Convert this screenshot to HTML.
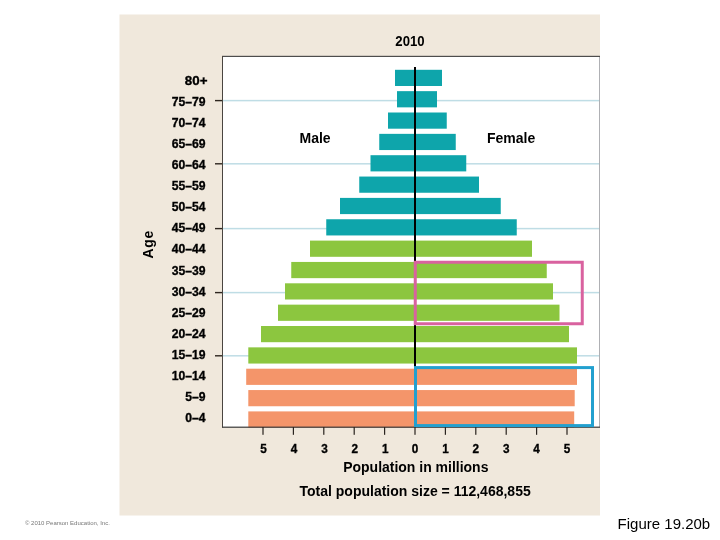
<!DOCTYPE html><html><head><meta charset="utf-8"><title>Figure 19.20b</title>
<style>html,body{margin:0;padding:0;background:#fff;}body{width:720px;height:540px;overflow:hidden;font-family:"Liberation Sans",sans-serif;}svg{display:block;will-change:transform;}text{font-family:"Liberation Sans",sans-serif;fill:#000;}</style></head><body>
<svg width="720" height="540" viewBox="0 0 720 540">
<rect x="0" y="0" width="720" height="540" fill="#ffffff"/>
<rect x="119.5" y="14.5" width="480.5" height="501" fill="#f0e8dc"/>
<rect x="222.5" y="56.5" width="377.5" height="370.5" fill="#ffffff"/>
<rect x="223" y="99.85" width="376.5" height="1.5" fill="#bfdde5"/>
<rect x="215" y="99.89999999999999" width="7.5" height="1.4" fill="#2e2620"/>
<rect x="223" y="163.05" width="376.5" height="1.5" fill="#bfdde5"/>
<rect x="215" y="163.10000000000002" width="7.5" height="1.4" fill="#2e2620"/>
<rect x="223" y="227.85" width="376.5" height="1.5" fill="#bfdde5"/>
<rect x="215" y="227.9" width="7.5" height="1.4" fill="#2e2620"/>
<rect x="223" y="291.85" width="376.5" height="1.5" fill="#bfdde5"/>
<rect x="215" y="291.90000000000003" width="7.5" height="1.4" fill="#2e2620"/>
<rect x="223" y="355.05" width="376.5" height="1.5" fill="#bfdde5"/>
<rect x="215" y="355.1" width="7.5" height="1.4" fill="#2e2620"/>
<rect x="599.1" y="57" width="0.9" height="370" fill="#a6a8ac"/>
<rect x="395" y="69.80" width="47.00" height="16.2" fill="#0ea5ab"/>
<rect x="397" y="91.15" width="40.00" height="16.2" fill="#0ea5ab"/>
<rect x="388" y="112.50" width="58.75" height="16.2" fill="#0ea5ab"/>
<rect x="379.25" y="133.85" width="76.50" height="16.2" fill="#0ea5ab"/>
<rect x="370.5" y="155.20" width="95.75" height="16.2" fill="#0ea5ab"/>
<rect x="359.25" y="176.55" width="119.75" height="16.2" fill="#0ea5ab"/>
<rect x="340" y="197.90" width="160.75" height="16.2" fill="#0ea5ab"/>
<rect x="326.25" y="219.25" width="190.50" height="16.2" fill="#0ea5ab"/>
<rect x="310" y="240.60" width="222.00" height="16.2" fill="#8cc63f"/>
<rect x="291.25" y="261.95" width="255.50" height="16.2" fill="#8cc63f"/>
<rect x="285" y="283.30" width="268.00" height="16.2" fill="#8cc63f"/>
<rect x="278" y="304.65" width="281.50" height="16.2" fill="#8cc63f"/>
<rect x="261" y="326.00" width="308.00" height="16.2" fill="#8cc63f"/>
<rect x="248.3" y="347.35" width="328.70" height="16.2" fill="#8cc63f"/>
<rect x="246.2" y="368.70" width="330.80" height="16.2" fill="#f4956a"/>
<rect x="248.3" y="390.05" width="326.40" height="16.2" fill="#f4956a"/>
<rect x="248.3" y="411.40" width="325.90" height="16.2" fill="#f4956a"/>
<rect x="414" y="67" width="2" height="300" fill="#000"/>
<rect x="222" y="55.8" width="378" height="1.2" fill="#4d4d4d"/>
<rect x="222" y="56" width="1" height="371.5" fill="#4a4540"/>
<rect x="222" y="426.6" width="378" height="1.2" fill="#3a3a3a"/>
<rect x="262.40" y="427" width="1.2" height="7.8" fill="#2a241f"/>
<rect x="292.80" y="427" width="1.2" height="7.8" fill="#2a241f"/>
<rect x="323.20" y="427" width="1.2" height="7.8" fill="#2a241f"/>
<rect x="353.60" y="427" width="1.2" height="7.8" fill="#2a241f"/>
<rect x="384.00" y="427" width="1.2" height="7.8" fill="#2a241f"/>
<rect x="414.40" y="427" width="1.2" height="7.8" fill="#2a241f"/>
<rect x="444.80" y="427" width="1.2" height="7.8" fill="#2a241f"/>
<rect x="475.20" y="427" width="1.2" height="7.8" fill="#2a241f"/>
<rect x="505.60" y="427" width="1.2" height="7.8" fill="#2a241f"/>
<rect x="536.00" y="427" width="1.2" height="7.8" fill="#2a241f"/>
<rect x="566.40" y="427" width="1.2" height="7.8" fill="#2a241f"/>
<rect x="415.25" y="262.25" width="167" height="61.5" fill="none" stroke="#d9629f" stroke-width="3"/>
<rect x="415.5" y="367.6" width="177" height="58" fill="none" stroke="#22a0cf" stroke-width="3"/>
<text transform="translate(207.5,84.50) scale(0.99,1)" text-anchor="end" font-size="13.5" font-weight="bold" stroke="#000" stroke-width="0.35">80+</text>
<text transform="translate(205.6,105.62) scale(0.905,1)" text-anchor="end" font-size="13.5" font-weight="bold" stroke="#000" stroke-width="0.35">75–79</text>
<text transform="translate(205.6,126.74) scale(0.905,1)" text-anchor="end" font-size="13.5" font-weight="bold" stroke="#000" stroke-width="0.35">70–74</text>
<text transform="translate(205.6,147.86) scale(0.905,1)" text-anchor="end" font-size="13.5" font-weight="bold" stroke="#000" stroke-width="0.35">65–69</text>
<text transform="translate(205.6,168.98) scale(0.905,1)" text-anchor="end" font-size="13.5" font-weight="bold" stroke="#000" stroke-width="0.35">60–64</text>
<text transform="translate(205.6,190.10) scale(0.905,1)" text-anchor="end" font-size="13.5" font-weight="bold" stroke="#000" stroke-width="0.35">55–59</text>
<text transform="translate(205.6,211.22) scale(0.905,1)" text-anchor="end" font-size="13.5" font-weight="bold" stroke="#000" stroke-width="0.35">50–54</text>
<text transform="translate(205.6,232.34) scale(0.905,1)" text-anchor="end" font-size="13.5" font-weight="bold" stroke="#000" stroke-width="0.35">45–49</text>
<text transform="translate(205.6,253.46) scale(0.905,1)" text-anchor="end" font-size="13.5" font-weight="bold" stroke="#000" stroke-width="0.35">40–44</text>
<text transform="translate(205.6,274.58) scale(0.905,1)" text-anchor="end" font-size="13.5" font-weight="bold" stroke="#000" stroke-width="0.35">35–39</text>
<text transform="translate(205.6,295.70) scale(0.905,1)" text-anchor="end" font-size="13.5" font-weight="bold" stroke="#000" stroke-width="0.35">30–34</text>
<text transform="translate(205.6,316.82) scale(0.905,1)" text-anchor="end" font-size="13.5" font-weight="bold" stroke="#000" stroke-width="0.35">25–29</text>
<text transform="translate(205.6,337.94) scale(0.905,1)" text-anchor="end" font-size="13.5" font-weight="bold" stroke="#000" stroke-width="0.35">20–24</text>
<text transform="translate(205.6,359.06) scale(0.905,1)" text-anchor="end" font-size="13.5" font-weight="bold" stroke="#000" stroke-width="0.35">15–19</text>
<text transform="translate(205.6,380.18) scale(0.905,1)" text-anchor="end" font-size="13.5" font-weight="bold" stroke="#000" stroke-width="0.35">10–14</text>
<text transform="translate(205.6,401.30) scale(0.905,1)" text-anchor="end" font-size="13.5" font-weight="bold" stroke="#000" stroke-width="0.35">5–9</text>
<text transform="translate(205.6,422.42) scale(0.905,1)" text-anchor="end" font-size="13.5" font-weight="bold" stroke="#000" stroke-width="0.35">0–4</text>
<text transform="translate(263.60,453) scale(0.87,1)" text-anchor="middle" font-size="13.5" font-weight="bold" stroke="#000" stroke-width="0.35">5</text>
<text transform="translate(294.00,453) scale(0.87,1)" text-anchor="middle" font-size="13.5" font-weight="bold" stroke="#000" stroke-width="0.35">4</text>
<text transform="translate(324.40,453) scale(0.87,1)" text-anchor="middle" font-size="13.5" font-weight="bold" stroke="#000" stroke-width="0.35">3</text>
<text transform="translate(354.80,453) scale(0.87,1)" text-anchor="middle" font-size="13.5" font-weight="bold" stroke="#000" stroke-width="0.35">2</text>
<text transform="translate(385.20,453) scale(0.87,1)" text-anchor="middle" font-size="13.5" font-weight="bold" stroke="#000" stroke-width="0.35">1</text>
<text transform="translate(415.00,453) scale(0.87,1)" text-anchor="middle" font-size="13.5" font-weight="bold" stroke="#000" stroke-width="0.35">0</text>
<text transform="translate(445.40,453) scale(0.87,1)" text-anchor="middle" font-size="13.5" font-weight="bold" stroke="#000" stroke-width="0.35">1</text>
<text transform="translate(475.80,453) scale(0.87,1)" text-anchor="middle" font-size="13.5" font-weight="bold" stroke="#000" stroke-width="0.35">2</text>
<text transform="translate(506.20,453) scale(0.87,1)" text-anchor="middle" font-size="13.5" font-weight="bold" stroke="#000" stroke-width="0.35">3</text>
<text transform="translate(536.60,453) scale(0.87,1)" text-anchor="middle" font-size="13.5" font-weight="bold" stroke="#000" stroke-width="0.35">4</text>
<text transform="translate(567.00,453) scale(0.87,1)" text-anchor="middle" font-size="13.5" font-weight="bold" stroke="#000" stroke-width="0.35">5</text>
<text transform="translate(153,244.3) rotate(-90)" text-anchor="middle" font-size="14" font-weight="bold" letter-spacing="0.7">Age</text>
<text transform="translate(410,45.7) scale(0.94,1)" text-anchor="middle" font-size="14" font-weight="bold">2010</text>
<text x="299.5" y="143" font-size="14" font-weight="bold">Male</text>
<text x="487" y="143" font-size="14" font-weight="bold">Female</text>
<text transform="translate(343.2,472) scale(0.999,1)" font-size="14" font-weight="bold">Population in millions</text>
<text x="299.5" y="495.5" font-size="14" font-weight="bold">Total population size = 112,468,855</text>
<text transform="translate(617.6,529) scale(0.968,1)" font-size="15.5">Figure 19.20b</text>
<text x="25" y="524.5" font-size="6" style="fill:#777">© 2010 Pearson Education, Inc.</text>
</svg></body></html>
